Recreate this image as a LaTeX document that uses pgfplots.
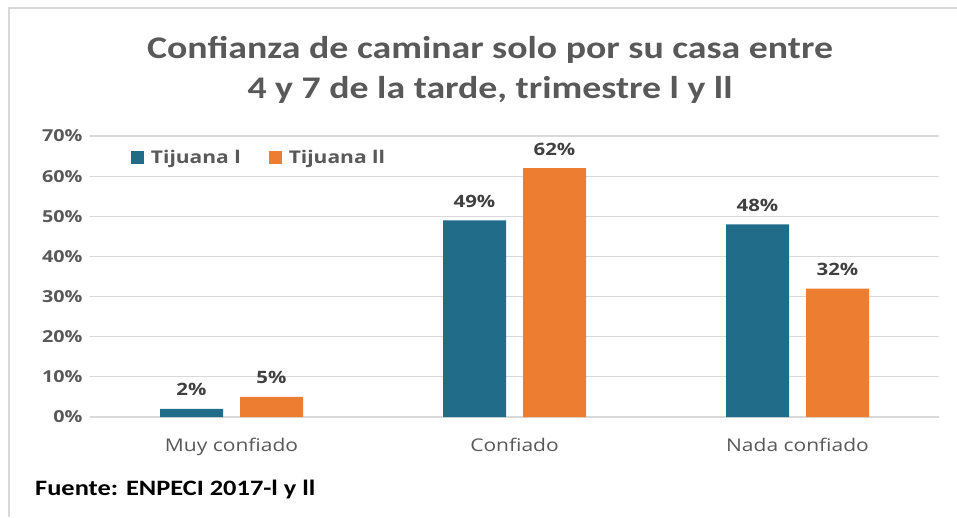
\documentclass[border=0pt]{standalone}
\usepackage{fontspec}
\usepackage{pgfplots}
\pgfplotsset{compat=1.18}
\setmainfont{Open Sans}[FakeStretch=1.2]
\newfontfamily\titlefont{Carlito}[FakeStretch=1.2]
\definecolor{tblue}{HTML}{216C89}
\definecolor{torange}{HTML}{ED7D31}
\definecolor{gridc}{HTML}{D9D9D9}
\definecolor{txtgray}{HTML}{595959}
\definecolor{lblgray}{HTML}{404040}
\begin{document}
\begin{tikzpicture}[x=1pt,y=1pt]
\useasboundingbox (0,0) rectangle (957,517);
\fill[white] (0,0) rectangle (957,517);
\draw[gridc, line width=2.5pt] (9,0) -- (9,509) -- (957,509);
\begin{axis}[
  at={(90pt,100pt)}, anchor=south west,
  scale only axis, width=849pt, height=281pt,
  xmin=-0.5, xmax=2.5, ymin=0, ymax=70,
  ybar=17pt, bar width=63pt,
  xtick={0,1,2},
  xticklabels={Muy confiado, Confiado, Nada confiado},
  ytick={0,10,...,70},
  yticklabel={\pgfmathprintnumber{\tick}\%},
  /pgf/number format/assume math mode=true,
  axis line style={draw=none},
  major tick style={draw=none},
  ymajorgrids, grid style={gridc, line width=1.2pt},
  yticklabel style={font=\fontsize{16.5}{18}\selectfont\bfseries, text=txtgray, xshift=-4pt},
  xticklabel style={font=\fontsize{17.5}{20}\selectfont, text=txtgray, yshift=-13pt},
  nodes near coords={\pgfmathprintnumber{\pgfplotspointmeta}\%},
  every node near coord/.append style={font=\fontsize{17}{20}\selectfont\bfseries, text=lblgray, anchor=base, yshift=13pt},
  legend style={at={(0.048,0.922)}, anchor=west, draw=none, fill=none,
    font=\fontsize{17.5}{20}\selectfont\bfseries, text=txtgray, inner sep=0pt,
    /tikz/every odd column/.append style={column sep=5pt},
    /tikz/every even column/.append style={column sep=26pt}},
  legend columns=2,
  legend image code/.code={\fill[#1] (0pt,-6.5pt) rectangle (13pt,6.5pt);},
]
\addplot[fill=tblue, draw=none] coordinates {(0,2) (1,49) (2,48)};
\addplot[fill=torange, draw=none] coordinates {(0,5) (1,62) (2,32)};
\legend{Tijuana l, Tijuana ll}
\end{axis}
\node[font=\titlefont\fontsize{31.5}{40}\selectfont\bfseries, text=txtgray, align=center] at (490,447) {Confianza de caminar solo por su casa entre\\4 y 7 de la tarde, trimestre l y ll};
\node[font=\titlefont\fontsize{22}{24}\selectfont\bfseries, anchor=west, inner sep=0pt] at (35,27) {Fuente: ENPECI 2017-l y ll};
\end{tikzpicture}
\end{document}
